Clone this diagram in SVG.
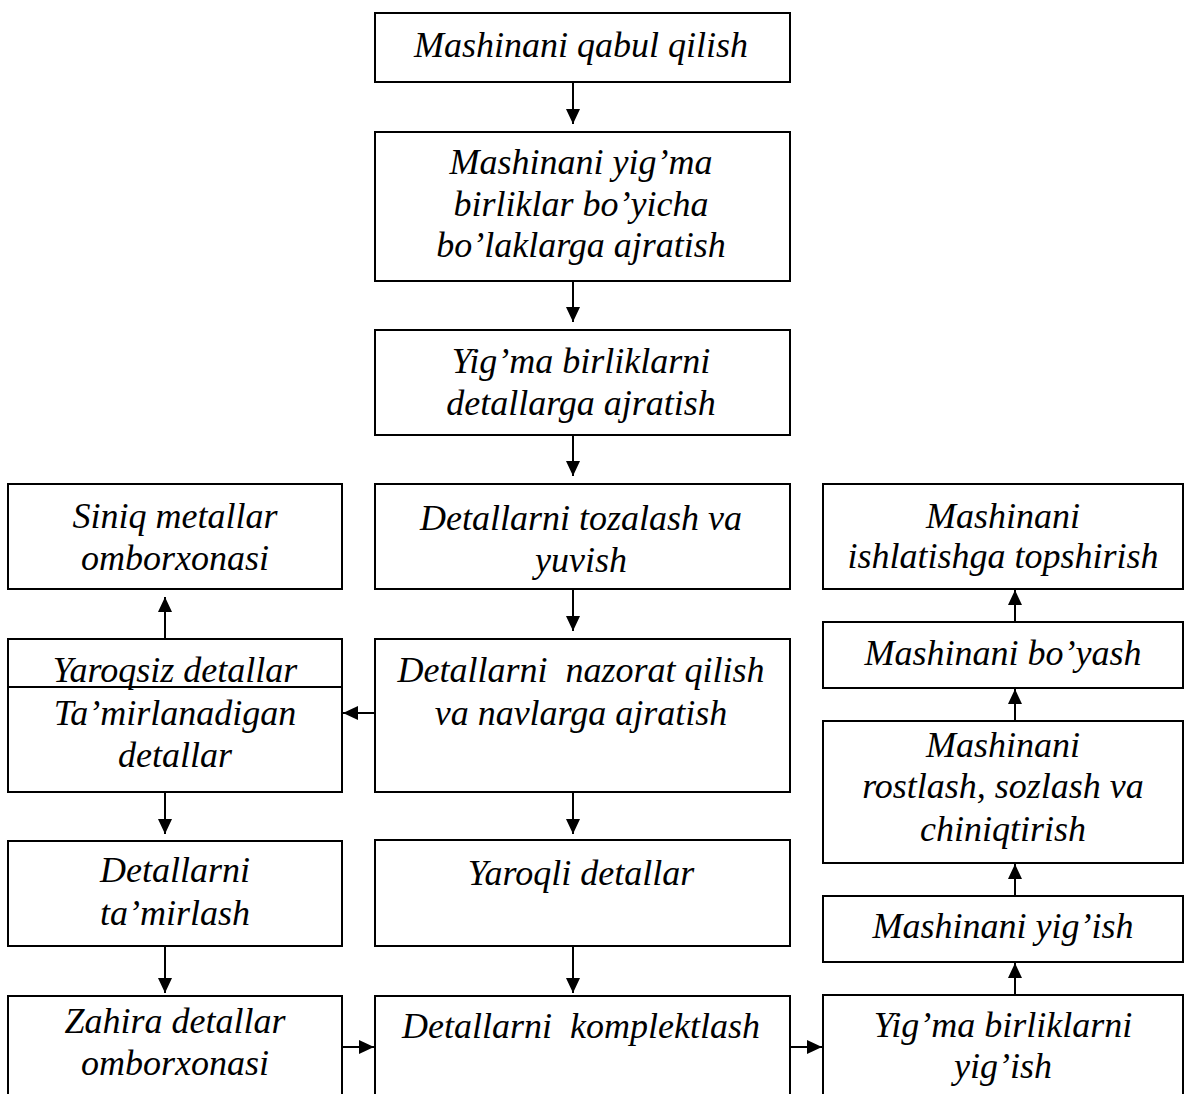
<svg xmlns="http://www.w3.org/2000/svg" width="1185" height="1094" viewBox="0 0 1185 1094">
<style>
.box{fill:#fff;stroke:#000;stroke-width:2}
.t{font-family:"Liberation Serif","Times New Roman",serif;font-style:italic;font-size:36px;fill:#000;text-anchor:middle}
.c{stroke:#000;stroke-width:2;fill:none;marker-end:url(#ah)}
</style>
<defs>
<marker id="ah" markerUnits="userSpaceOnUse" markerWidth="16" markerHeight="16" refX="15" refY="7" orient="auto">
<path d="M0,0 L15,7 L0,14 z" fill="#000"/>
</marker>
</defs>
<rect width="1185" height="1094" fill="#fff"/>
<g id="n1"><rect class="box" x="375" y="13" width="415" height="69"/><text class="t" x="581" y="57">Mashinani qabul qilish</text></g>
<g id="n2"><rect class="box" x="375" y="132" width="415" height="149"/><text class="t" x="581" y="174">Mashinani yig’ma</text><text class="t" x="581" y="216">birliklar bo’yicha</text><text class="t" x="581" y="257">bo’laklarga ajratish</text></g>
<g id="n3"><rect class="box" x="375" y="330" width="415" height="105"/><text class="t" x="581" y="373">Yig’ma birliklarni</text><text class="t" x="581" y="415">detallarga ajratish</text></g>
<g id="n4"><rect class="box" x="375" y="484" width="415" height="105"/><text class="t" x="581" y="530">Detallarni tozalash va</text><text class="t" x="581" y="572">yuvish</text></g>
<g id="n5"><rect class="box" x="375" y="639" width="415" height="153"/><text class="t" x="581" y="682" xml:space="preserve">Detallarni  nazorat qilish</text><text class="t" x="581" y="725">va navlarga ajratish</text></g>
<g id="n6"><rect class="box" x="375" y="840" width="415" height="106"/><text class="t" x="581" y="885">Yaroqli detallar</text></g>
<g id="n7"><rect class="box" x="375" y="996" width="415" height="110"/><text class="t" x="581" y="1038" xml:space="preserve">Detallarni  komplektlash</text></g>
<g id="l1"><rect class="box" x="8" y="484" width="334" height="105"/><text class="t" x="175" y="528">Siniq metallar</text><text class="t" x="175" y="570">omborxonasi</text></g>
<g id="l2"><rect class="box" x="8" y="639" width="334" height="153"/><line x1="8" y1="687" x2="342" y2="687" stroke="#000" stroke-width="2"/><text class="t" x="175" y="682">Yaroqsiz detallar</text><text class="t" x="175" y="725">Ta’mirlanadigan</text><text class="t" x="175" y="767">detallar</text></g>
<g id="l3"><rect class="box" x="8" y="841" width="334" height="105"/><text class="t" x="175" y="882">Detallarni</text><text class="t" x="175" y="925">ta’mirlash</text></g>
<g id="l4"><rect class="box" x="8" y="996" width="334" height="110"/><text class="t" x="175" y="1033">Zahira detallar</text><text class="t" x="175" y="1075">omborxonasi</text></g>
<g id="r1"><rect class="box" x="823" y="484" width="360" height="105"/><text class="t" x="1003" y="528">Mashinani</text><text class="t" x="1003" y="568">ishlatishga topshirish</text></g>
<g id="r2"><rect class="box" x="823" y="622" width="360" height="66"/><text class="t" x="1003" y="665">Mashinani bo’yash</text></g>
<g id="r3"><rect class="box" x="823" y="721" width="360" height="142"/><text class="t" x="1003" y="757">Mashinani</text><text class="t" x="1003" y="798">rostlash, sozlash va</text><text class="t" x="1003" y="841">chiniqtirish</text></g>
<g id="r4"><rect class="box" x="823" y="896" width="360" height="66"/><text class="t" x="1003" y="938">Mashinani yig’ish</text></g>
<g id="r5"><rect class="box" x="823" y="995" width="360" height="111"/><text class="t" x="1003" y="1037">Yig’ma birliklarni</text><text class="t" x="1003" y="1078">yig’ish</text></g>
<g id="connectors">
<line class="c" x1="573" y1="82" x2="573" y2="124"/>
<line class="c" x1="573" y1="281" x2="573" y2="322"/>
<line class="c" x1="573" y1="435" x2="573" y2="476"/>
<line class="c" x1="573" y1="589" x2="573" y2="631"/>
<line class="c" x1="573" y1="792" x2="573" y2="834"/>
<line class="c" x1="573" y1="946" x2="573" y2="993"/>
<line class="c" x1="165" y1="639" x2="165" y2="597"/>
<line class="c" x1="165" y1="792" x2="165" y2="834"/>
<line class="c" x1="165" y1="946" x2="165" y2="993"/>
<line class="c" x1="375" y1="713" x2="343" y2="713"/>
<line class="c" x1="342" y1="1047" x2="374" y2="1047"/>
<line class="c" x1="790" y1="1047" x2="822" y2="1047"/>
<line class="c" x1="1015" y1="995" x2="1015" y2="963"/>
<line class="c" x1="1015" y1="896" x2="1015" y2="864"/>
<line class="c" x1="1015" y1="721" x2="1015" y2="689"/>
<line class="c" x1="1015" y1="622" x2="1015" y2="590"/>
</g>
</svg>
